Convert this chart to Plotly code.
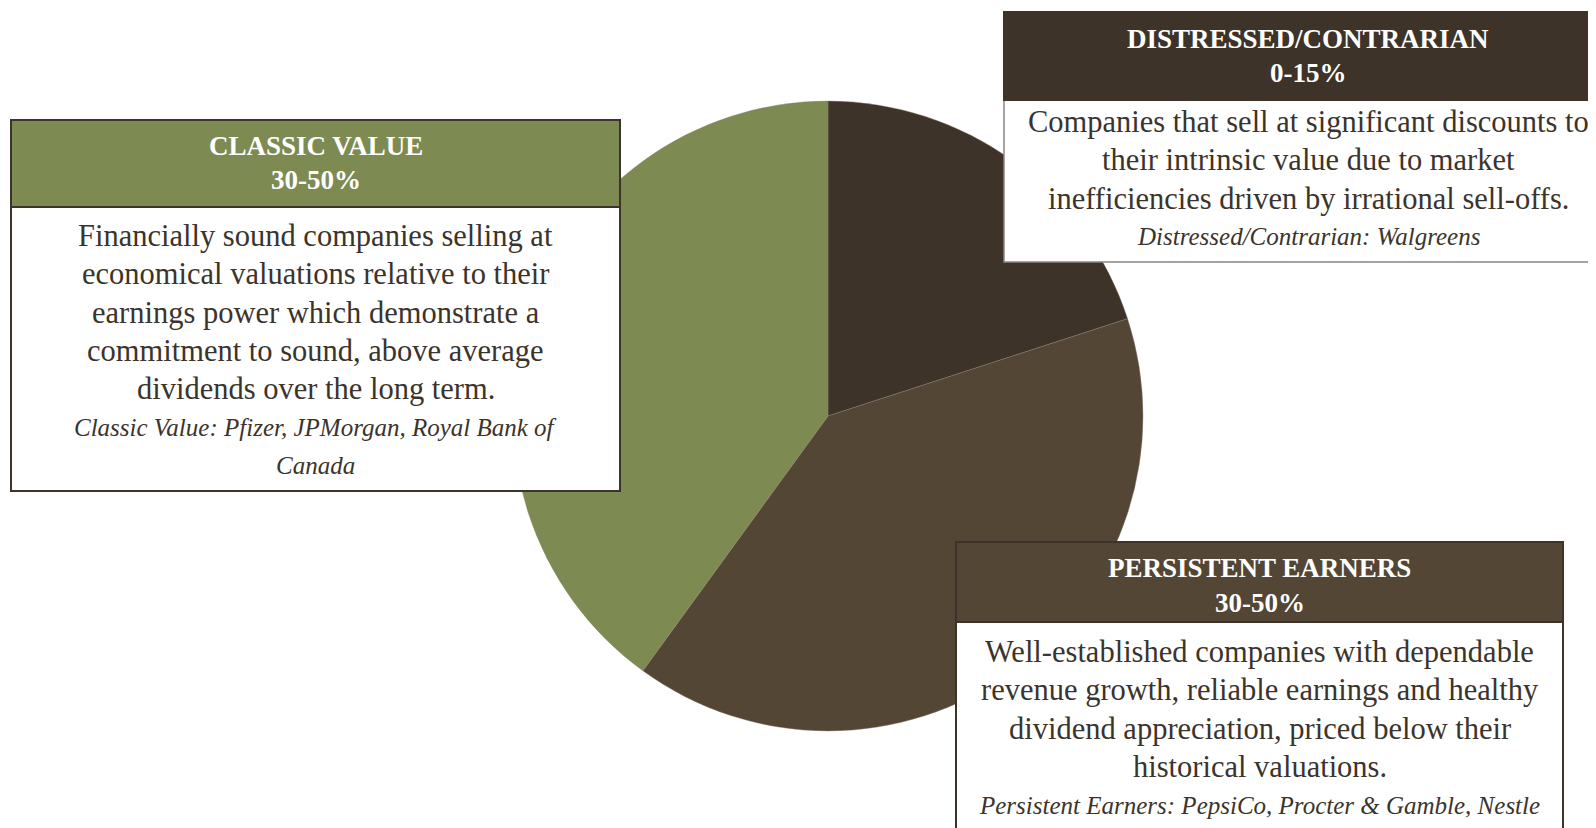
import plotly.graph_objects as go

# slice data (clockwise from 12 o'clock)
categories = ["Distressed/Contrarian", "Persistent Earners", "Classic Value"]
values = [20, 40, 40]
colors = ["#3d3328", "#544634", "#7d8b52"]

headers = ["DISTRESSED/CONTRARIAN", "PERSISTENT EARNERS", "CLASSIC VALUE"]
ranges = ["0-15%", "30-50%", "30-50%"]
descriptions = [
    ["Companies that sell at significant discounts to",
     "their intrinsic value due to market",
     "inefficiencies driven by irrational sell-offs."],
    ["Well-established companies with dependable",
     "revenue growth, reliable earnings and healthy",
     "dividend appreciation, priced below their",
     "historical valuations."],
    ["Financially sound companies selling at",
     "economical valuations relative to their",
     "earnings power which demonstrate a",
     "commitment to sound, above average",
     "dividends over the long term."],
]
examples = [
    ["Distressed/Contrarian: Walgreens"],
    ["Persistent Earners: PepsiCo, Procter & Gamble, Nestle"],
    ["Classic Value: Pfizer, JPMorgan, Royal Bank of", "Canada"],
]

# page has an 8px body margin, so the figure starts at (8, 8)
OFF = 8
W, H = 1596 - OFF, 828 - OFF
FONT = "Liberation Serif"
TEXT_COLOR = "#3b342c"

# box geometry in page pixels
boxes = [
    dict(x0=1004, x1=1612, top=12, hdr=100, bottom=262, hy=39, border="#8a8580", bw=1.5),
    dict(x0=956, x1=1563, top=542, hdr=622, bottom=840, hy=568, border="#3d3328", bw=2),
    dict(x0=11, x1=620, top=120, hdr=207, bottom=491, hy=146, border="#3d3328", bw=2),
]
body_start = [122, 652, 236]
hdr_gap = 34.5
line_gap = 38.3


def px(x):
    return (x - OFF) / W


def py(y):
    return 1 - (y - OFF) / H


fig = go.Figure(go.Pie(
    labels=categories,
    values=values,
    marker=dict(colors=colors, line=dict(color="#8a7d6e", width=0.4)),
    sort=False,
    direction="clockwise",
    rotation=0,
    textinfo="none",
    hoverinfo="label+percent",
    showlegend=False,
    domain=dict(x=[px(828 - 315), px(828 + 315)], y=[py(731), py(101)]),
))

shapes = []
annotations = []
for i, b in enumerate(boxes):
    cx = (b["x0"] + b["x1"]) / 2
    # body
    shapes.append(dict(type="rect", xref="paper", yref="paper",
                       x0=px(b["x0"]), x1=px(b["x1"]), y0=py(b["bottom"]), y1=py(b["hdr"]),
                       fillcolor="white", line=dict(color=b["border"], width=b["bw"])))
    # header band
    shapes.append(dict(type="rect", xref="paper", yref="paper",
                       x0=px(b["x0"]), x1=px(b["x1"]), y0=py(b["hdr"]), y1=py(b["top"]),
                       fillcolor=colors[i], line=dict(color="#3d3328", width=2)))
    for j, t in enumerate([headers[i], ranges[i]]):
        annotations.append(dict(x=px(cx), y=py(b["hy"] + j * hdr_gap), xref="paper", yref="paper",
                                text="<b>%s</b>" % t, showarrow=False, xanchor="center", yanchor="middle",
                                font=dict(family=FONT, size=27, color="white")))
    lines = [(t, False) for t in descriptions[i]] + [(t, True) for t in examples[i]]
    for k, (t, ital) in enumerate(lines):
        annotations.append(dict(x=px(cx), y=py(body_start[i] + k * line_gap), xref="paper", yref="paper",
                                text="<i>%s</i>" % t if ital else t, showarrow=False,
                                xanchor="center", yanchor="middle",
                                font=dict(family=FONT, size=25 if ital else 30.5, color=TEXT_COLOR)))

fig.update_layout(
    width=W, height=H,
    margin=dict(l=0, r=0, t=0, b=0),
    paper_bgcolor="white",
    plot_bgcolor="white",
    shapes=shapes,
    annotations=annotations,
)

fig.write_html("out.html")
